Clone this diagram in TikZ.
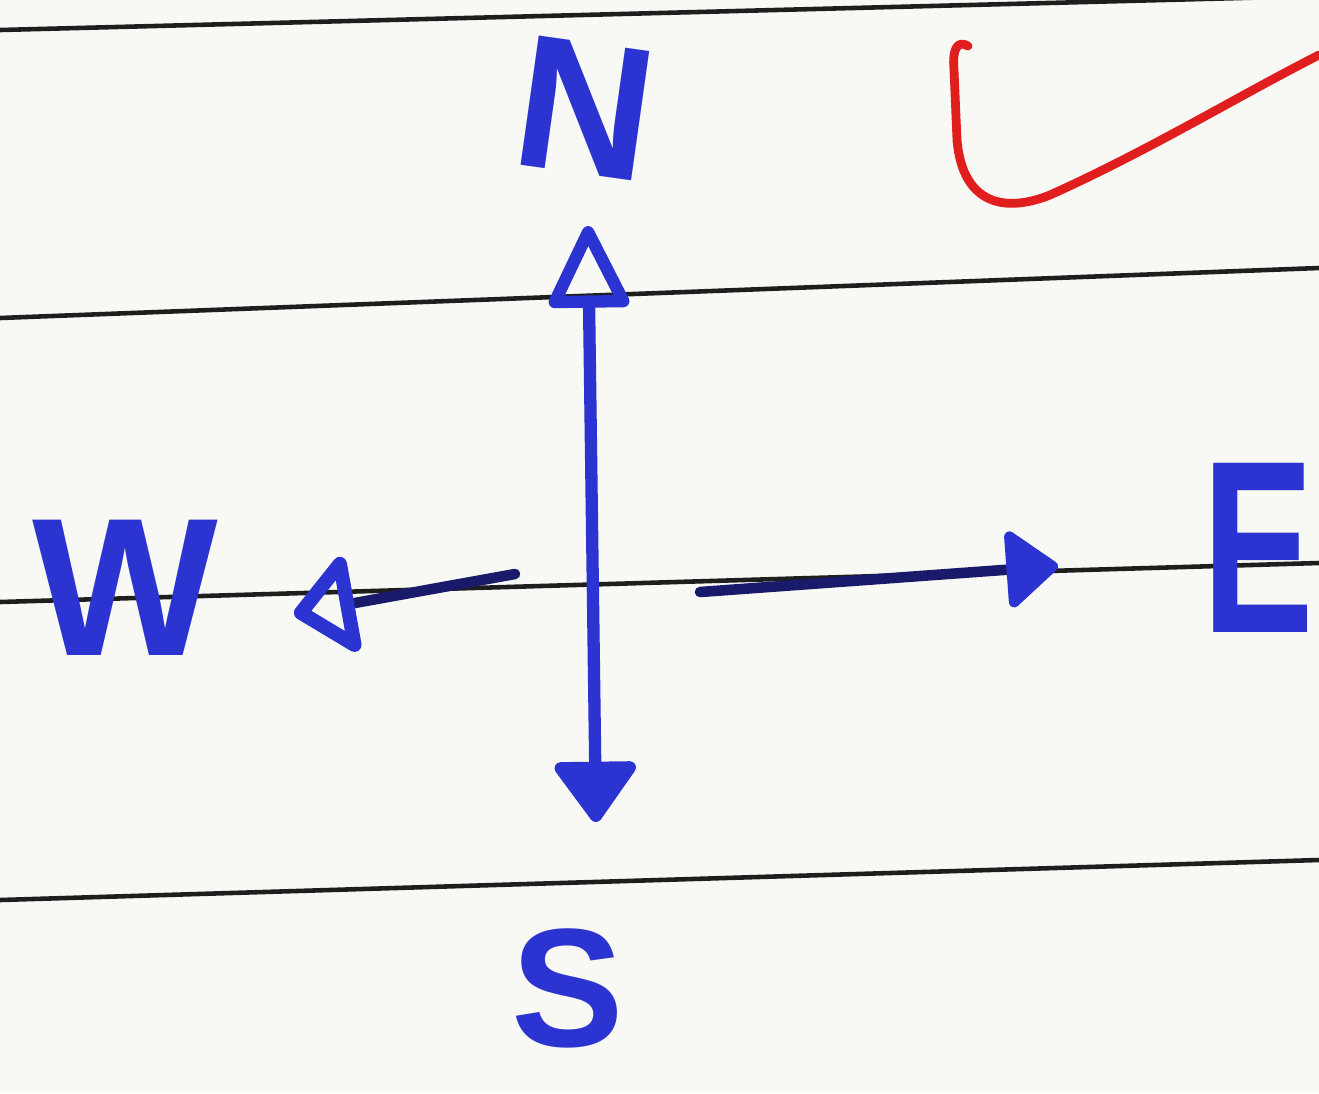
\documentclass[tikz,border=0pt]{standalone}
\usepackage{fontspec}
\setmainfont{Liberation Sans}
\usetikzlibrary{arrows.meta}
\definecolor{paper}{HTML}{F8F8F4}
\definecolor{rule}{HTML}{1E1E1E}
\definecolor{ink}{HTML}{2B34D0}
\definecolor{navy}{HTML}{1A1A6A}
\definecolor{checkred}{HTML}{E01E1E}
\begin{document}
\begin{tikzpicture}[x=0.02cm,y=-0.02cm,
  ruled/.style={draw=rule,line width=2.6pt},
  inkline/.style={draw=ink,line width=7pt,line cap=round,line join=round},
  navyline/.style={draw=navy,line width=6pt,line cap=round},
  letter/.style={text=ink,inner sep=0pt,font=\bfseries}]
\fill[paper] (0,0) rectangle (1319,1093);
\useasboundingbox (0,0) rectangle (1319,1093);
\begin{scope}
\clip (0,0) rectangle (1319,1093);
% ruled lines
\coordinate (r1a) at (0,30);   \coordinate (r1b) at (1319,-4);
\coordinate (r2a) at (0,318);  \coordinate (r2b) at (1319,268);
\coordinate (r3a) at (0,602);  \coordinate (r3b) at (1319,563);
\coordinate (r4a) at (0,900);  \coordinate (r4b) at (1319,860);
\draw[ruled] (r1a) -- (r1b);
\draw[ruled] (r2a) -- (r2b);
\draw[ruled] (r3a) -- (r3b);
\draw[ruled] (r4a) -- (r4b);
% letters
\node[letter,font=\bfseries\fontsize{108}{108}\selectfont,rotate=-8] (N) at (585,108) {N};
\node[letter,font=\bfseries\fontsize{112}{112}\selectfont] (W) at (125,588) {W};
\node[letter,font=\bfseries\fontsize{140}{140}\selectfont,xscale=0.68] (E) at (1258,548) {E};
\node[letter,font=\bfseries\fontsize{96}{96}\selectfont] (S) at (568,988) {S};
% arrows
\coordinate (nEnd) at (588,226);
\coordinate (sEnd) at (596,822);
\draw[inkline,{Triangle[round,length=1.3cm,width=1.8cm]}-{Triangle[open,round,length=1.8cm,width=1.7cm]}] (sEnd) -- (nEnd);
\coordinate (wStart) at (515,574);
\coordinate (wEnd) at (294,614);
\draw[navyline,-{Triangle[open,round,color=ink,line width=8pt,length=1.3cm,width=2.2cm]}] (wStart) -- (wEnd);
\coordinate (eStart) at (700,592);
\coordinate (eEnd) at (1058,566);
\draw[navyline,-{Triangle[round,color=ink,length=1.1cm,width=1.7cm]}] (eStart) -- (eEnd);
% red check mark
\coordinate (ck1) at (968,46);
\coordinate (ck2) at (1319,55);
\draw[checkred,line width=5pt,line cap=round,line join=round]
  (ck1) .. controls (958,40) and (952,48) .. (954,70)
  -- (957,140) .. controls (962,200) and (1000,215) .. (1050,195)
  .. controls (1150,150) and (1240,95) .. (ck2);
\end{scope}
\end{tikzpicture}
\end{document}
